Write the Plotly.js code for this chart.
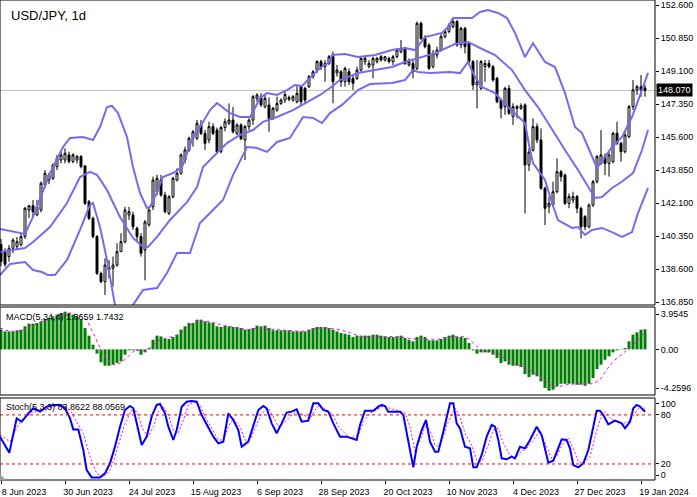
<!DOCTYPE html>
<html><head><meta charset="utf-8">
<script src="https://cdn.plot.ly/plotly-3.0.1.min.js"></script>
<style>html,body{margin:0;padding:0;background:#fff}#chart{width:697px;height:497px}</style>
</head><body><div id="chart"></div>
<script>
// ---- Data (daily bars, USD/JPY) ----
const dateTicks = ['8 Jun 2023','30 Jun 2023','24 Jul 2023','15 Aug 2023','6 Sep 2023','28 Sep 2023','20 Oct 2023','10 Nov 2023','4 Dec 2023','27 Dec 2023','19 Jan 2024'];
const dateTickBars = [0,16,32,48,64,80,96,112,128,144,160];

const openP = [139.90,139.50,139.26,139.70,139.79,139.88,140.32,141.73,141.96,141.47,141.73,143.06,143.32,143.41,144.03,144.38,144.38,144.65,144.30,144.38,
144.56,144.06,142.17,141.29,140.32,138.37,137.93,138.55,138.64,138.81,139.52,140.05,141.47,141.47,140.76,140.32,139.61,140.94,141.90,142.70,
143.32,142.52,141.55,142.43,143.32,143.68,144.38,144.91,145.53,145.53,146.24,145.79,145.44,146.15,145.97,144.82,146.10,146.33,146.50,145.79,
146.24,145.44,146.15,146.50,147.65,147.74,147.20,147.30,146.59,147.03,147.38,147.56,147.60,147.56,147.47,148.27,148.18,148.27,148.80,149.15,
149.60,149.33,149.50,149.86,149.00,149.06,148.53,149.06,148.71,148.71,149.15,149.60,149.33,149.42,149.60,149.86,149.68,149.77,149.60,149.86,
150.12,150.30,149.42,149.50,149.24,151.63,150.83,150.48,149.33,149.95,150.21,150.92,151.19,151.45,151.72,150.48,151.36,150.57,149.60,148.36,
148.18,149.33,149.50,149.33,148.71,147.56,147.21,148.18,146.68,147.12,147.12,147.30,144.12,144.90,146.15,145.44,142.88,141.90,142.00,142.70,
143.76,143.58,142.08,142.26,142.44,141.82,141.38,140.84,141.99,143.23,144.20,144.56,144.20,144.29,145.80,145.27,144.82,145.62,147.21,148.10,
148.27,148.20];
const highP = [140.20,139.70,139.87,140.23,140.30,140.50,141.90,142.00,142.26,142.26,143.24,143.85,143.70,144.20,144.65,144.82,145.00,144.82,144.74,144.65,
144.65,144.12,142.26,141.38,140.41,138.46,139.17,139.08,139.26,139.96,140.50,141.90,141.90,141.64,140.85,140.50,141.20,141.90,143.50,143.60,
143.59,142.70,142.52,143.50,143.94,144.74,145.09,145.62,145.97,146.50,146.50,145.97,146.41,146.33,146.10,146.20,146.59,147.38,147.20,146.33,
146.33,146.24,146.59,147.83,147.92,147.92,147.83,147.70,147.20,147.74,147.65,148.00,147.80,147.83,148.36,148.36,148.27,148.89,149.15,149.68,
149.70,149.68,149.95,150.13,149.42,149.15,149.33,149.24,148.89,149.33,149.86,149.86,149.68,149.86,149.86,149.95,149.90,149.86,149.95,150.30,
150.74,150.39,149.77,149.68,151.72,151.72,151.00,150.57,150.21,150.39,151.10,151.28,151.63,151.90,151.81,151.45,151.45,150.65,149.68,149.68,
149.68,149.68,149.68,149.42,148.80,147.65,148.27,148.36,147.39,147.30,147.39,147.39,145.00,146.59,146.33,146.06,142.97,142.44,143.23,144.47,
143.85,143.67,142.61,142.70,142.53,141.90,141.46,142.08,143.32,144.65,145.97,144.73,144.82,145.88,146.41,145.35,145.88,147.30,148.62,148.36,
148.89,148.36];
const lowP = [138.75,138.72,138.99,139.44,139.60,139.80,140.20,141.30,141.38,141.40,141.60,142.88,143.10,143.32,143.85,144.20,144.20,144.20,144.20,144.20,
143.94,142.00,141.20,140.23,138.28,137.84,137.22,138.11,137.66,138.72,139.50,139.96,141.20,140.67,140.05,139.26,138.00,140.85,141.73,142.50,
142.43,141.55,141.47,142.35,143.24,143.60,144.20,144.82,145.09,145.44,145.70,144.91,145.27,145.70,144.74,144.74,145.90,146.24,145.79,145.70,
145.44,144.38,145.97,146.24,147.47,147.20,147.12,145.88,146.50,146.94,147.30,147.40,147.50,147.47,147.38,147.30,147.40,148.20,148.70,149.00,
149.15,148.53,149.42,147.39,148.80,148.27,148.27,148.36,148.10,148.62,149.06,149.42,149.24,148.71,149.50,149.60,149.60,149.50,149.42,149.77,
150.03,149.42,149.33,148.71,149.15,150.74,150.30,149.15,149.24,149.77,150.12,150.83,151.10,151.36,150.39,150.30,150.03,149.42,148.10,147.12,
148.10,148.53,149.24,148.53,147.39,146.59,146.77,146.77,146.24,146.59,147.03,141.55,143.80,144.82,145.27,142.80,140.93,141.55,141.90,142.61,
143.23,142.00,141.82,142.08,141.55,140.22,140.66,140.75,141.90,143.14,144.12,143.58,143.50,144.20,145.18,144.29,144.73,145.53,147.03,147.83,
147.74,147.74];
const closeP = [139.00,138.85,139.70,140.14,140.05,140.32,141.82,141.96,141.64,141.90,143.15,143.68,143.59,144.12,144.47,144.65,144.74,144.30,144.65,144.56,
144.03,142.08,141.29,140.32,138.37,137.93,138.81,138.69,138.81,139.52,140.05,141.73,141.64,140.85,140.32,139.44,141.10,141.73,143.32,143.41,
142.52,141.64,142.43,143.41,143.68,144.65,144.91,145.53,145.88,146.33,145.79,145.27,146.15,145.79,144.82,146.10,146.41,146.50,145.88,146.24,
145.50,146.15,146.50,147.74,147.83,147.30,147.65,146.59,147.12,147.38,147.56,147.85,147.70,147.74,147.92,147.47,147.56,148.80,149.06,149.60,
149.30,149.50,149.86,148.53,149.15,148.53,149.24,148.53,148.45,149.15,149.77,149.77,149.50,149.77,149.77,149.68,149.86,149.60,149.86,150.21,
150.30,149.50,149.60,149.06,151.63,150.83,150.39,149.24,150.03,150.21,150.92,151.19,151.54,151.72,150.48,151.36,150.39,149.60,148.36,148.53,
149.60,149.50,149.33,148.62,147.47,147.12,148.18,146.86,147.21,147.21,147.25,144.12,144.80,146.15,145.44,142.88,141.82,142.08,142.70,143.76,
143.50,142.08,142.44,142.44,141.82,140.84,140.84,141.99,143.23,144.56,144.65,144.20,144.65,145.80,145.27,144.82,145.71,147.21,148.10,148.27,
148.10,148.07];
const lastPrice = 148.07;

// envelope lines (bar index, price)
const bandAIdx = [-0.25,4.75,6,8,12.25,15.5,17.25,20.5,23,24.75,26.5,27.75,29.25,31.5,33,34.75,36.5,37.25,39,40.5,43,45.25,46.5,48,49.75,52.25,54,55.25,57.25,59.75,62.25,63.5,64.75,66.5,69,71.5,73.5,75.25,77.25,79.75,82.25,82.75,86,89.25,93.5,97.75,101,103.5,106,110.25,111.75,113,115.25,117.75,119.75,121.75,124.25,126.5,128.5,131,133,136,138.5,141,143.5,145.25,146.75,149,150.5,152.75,155.25,157.75,160.25,161.75];
const bandA = [140.72,140.51,140.46,141.36,143.69,145.07,145.55,145.60,145.44,146.13,147.19,147.25,146.87,145.60,144.01,142.63,141.84,141.89,142.68,143.48,143.69,144.01,144.75,145.60,146.13,147.03,147.40,147.19,146.87,146.66,146.66,147.14,147.67,147.93,147.83,148.09,148.36,148.31,148.73,149.26,149.58,149.95,150.00,149.84,149.95,150.21,150.32,150.21,150.90,151.12,151.43,151.91,151.91,151.91,152.23,152.33,152.18,151.91,151.12,149.84,150.58,149.58,149.31,147.93,146.13,145.81,145.07,143.96,144.38,145.07,145.60,146.66,148.09,149.00];
const bandBIdx = [-0.25,2.25,6,8,12.25,16.5,19.75,22.25,24,26.5,29.75,33,35.5,36.75,39,42.25,46.5,49,50.5,53,56.5,59.75,63,65.5,69,73,76.5,79.75,82.25,84.75,89.25,93.5,97.75,101,104.25,108.5,113.5,116.75,119.75,123.5,127.75,131,134.25,137.75,141,144.25,146.75,148.5,150.25,152.75,155,158,160.25,161.75];
const bandB = [139.50,139.60,139.71,140.03,140.83,142.10,143.48,143.75,143.59,142.79,141.36,140.25,139.77,139.77,140.30,141.20,142.15,142.95,144.01,144.54,145.28,145.71,145.97,146.40,146.66,147.03,147.46,147.83,148.20,148.62,148.99,149.15,149.31,149.58,149.79,150.05,150.53,150.64,150.32,149.95,149.15,148.09,147.19,145.97,144.91,143.85,142.95,142.37,142.42,142.90,143.20,143.69,144.91,145.97];
const bandCIdx = [-0.25,2.25,6,8,10.25,11.75,13.5,16.5,19.75,22.25,23,24.75,26.5,28.5,30.75,33,35.5,39,41.5,44,47.25,49.75,52.25,55.5,58,61.5,64,66.5,69,72.25,75.5,78,80.25,82.25,85.25,89.25,92.25,97.75,101,103,104.25,107.25,112.25,114.75,116.75,118.5,120.25,123.5,126.75,131,132.25,133,136,137.75,139.25,142.75,144.25,146,147.75,150.25,152.75,155.25,157.75,159.25,161.75];
const bandC = [138.28,138.87,138.97,138.55,138.44,138.28,138.28,139.08,140.67,142.00,142.10,140.83,139.08,136.69,135.40,136.69,137.49,137.59,138.39,139.45,139.45,141.04,141.57,142.26,143.58,145.07,145.02,144.81,145.34,145.55,146.66,146.61,146.34,146.87,147.30,148.09,148.41,148.46,148.62,149.15,149.05,148.99,149.05,148.99,149.58,148.78,148.25,147.93,147.19,146.34,144.91,144.22,143.32,142.10,141.20,140.78,140.83,140.41,140.67,140.78,140.56,140.30,140.56,141.57,142.90];

// MACD histogram per bar and signal line
const macdHist = [1.84,1.68,1.68,1.68,1.78,1.84,2.15,2.40,2.40,2.46,2.62,2.83,2.93,3.08,3.24,3.40,3.52,3.40,3.24,3.08,
2.83,1.99,1.28,0.44,-0.40,-1.21,-1.53,-1.53,-1.43,-1.28,-1.12,-0.50,-0.09,-0.09,-0.12,-0.50,-0.28,0.12,0.90,1.28,
1.21,0.97,0.97,1.15,1.37,1.84,2.15,2.46,2.46,2.77,2.77,2.62,2.52,2.46,2.15,2.09,2.21,2.15,2.09,2.09,
1.99,1.84,1.90,1.99,2.21,2.15,2.21,1.99,1.78,1.78,1.78,1.78,1.78,1.68,1.68,1.68,1.68,1.84,1.99,2.09,
2.09,2.09,1.99,1.84,1.68,1.53,1.46,1.37,1.15,1.28,1.28,1.28,1.28,1.37,1.37,1.28,1.21,1.15,1.15,1.21,
1.28,1.06,0.90,0.75,1.15,1.28,1.15,0.84,0.84,0.84,0.97,1.15,1.28,1.37,1.15,1.15,1.06,0.59,-0.09,-0.40,
-0.28,-0.28,-0.28,-0.50,-0.81,-1.28,-1.12,-1.43,-1.53,-1.53,-1.65,-2.31,-2.59,-2.37,-2.52,-2.99,-3.61,-3.86,-3.77,-3.46,
-3.21,-3.21,-3.21,-3.21,-3.30,-3.30,-3.40,-3.21,-2.68,-1.84,-1.43,-0.97,-0.65,-0.28,-0.09,-0.03,0.12,0.75,1.37,1.59,
1.84,1.87];
const macdSigIdx = [-0.25,2.25,4.75,7.25,9.75,12.25,14.75,17.25,19.75,21.42,22.67,23.92,25.17,26.42,28.08,29.75,31.42,33.08,34.75,36.42,38.08,39.75,41.42,43.08,45.17,46.42,48.08,49.75,51.42,53.08,54.75,56.42,58.08,59.75,61.42,63.08,64.75,66.42,68.08,69.75,71.42,73.08,74.75,76.42,78.08,79.75,81.42,83.08,84.75,86.83,89.75,93.08,97.25,99.75,101.42,103.08,105.58,108.08,109.75,111.42,113.92,115.58,117.25,118.92,120.58,123.08,124.75,126.42,128.08,129.75,131.42,133.08,134.75,136.42,138.08,139.75,141.42,143.08,144.75,146.42,148.08,149.75,151.42,153.08,154.75,156.42,158.08,159.75,161];
const macdSig = [1.99,1.68,1.68,2.15,2.52,2.83,3.24,3.40,3.15,2.77,1.84,0.75,-0.19,-0.90,-1.43,-1.28,-0.81,-0.19,-0.09,-0.09,0.44,0.90,1.06,1.21,1.53,1.99,2.46,2.71,2.62,2.52,2.31,2.15,2.09,1.99,1.84,1.90,1.99,1.90,1.84,1.78,1.78,1.74,1.68,1.74,1.84,1.99,1.99,1.93,1.84,1.59,1.21,1.15,1.21,1.15,1.06,0.97,0.97,0.90,0.97,1.15,1.21,1.21,0.90,0.28,-0.19,-0.28,-0.50,-0.97,-1.28,-1.53,-1.74,-2.06,-2.52,-2.99,-3.52,-3.46,-3.30,-3.24,-3.21,-3.24,-3.21,-2.83,-1.90,-1.12,-0.59,-0.09,0.44,1.06,1.74];

// Stochastic main and signal
const stochMainIdx = [-0.25,2.08,3.92,5.17,6.83,8.08,9.75,11.42,13.08,14.75,16,17.25,18.08,19.33,20.58,21.42,22.67,24.75,26,27.25,28.5,29.75,31,32.25,33.08,33.92,35.17,36.42,37.67,38.92,39.75,41,41.83,43.08,43.92,45.17,46.42,47.67,48.92,50.17,51.42,53.08,54.33,55.58,56.83,58.08,59.33,60.17,61.83,63.08,64.33,65.58,66.42,67.67,68.92,70.17,71.42,72.67,73.92,75.17,76.83,78.08,79.33,80.58,81.83,83.08,84.75,86.42,88.92,89.75,91,93.08,94.33,95.17,96,96.83,99.75,100.58,101.83,103.08,103.92,105.17,106.25,107.25,108.5,109.33,110.58,112.25,113.08,113.92,114.75,116,117.25,118.08,118.92,120.17,121.42,122.67,123.5,124.33,125.17,126.42,127.67,128.5,129.75,131,132.25,133.92,135.17,136.83,138.08,138.92,140.17,141.42,142.25,143.08,144.33,145.58,146.83,148.08,148.92,149.75,150.58,151.83,153.5,155.17,156,157.25,158.08,158.92,159.75,161];
const stochMain = [53.4,33.8,75.8,71.7,81.9,88.1,84.0,90.1,92.2,92.2,88.1,75.8,62.3,62.3,37.1,12.6,3.6,3.6,8.5,20.8,41.2,65.6,86.0,90.9,88.1,69.7,43.2,53.4,77.9,92.2,93.4,81.9,65.6,49.3,61.6,90.1,96.2,97.0,96.2,79.9,67.7,53.4,45.2,47.3,81.9,73.8,61.5,41.1,47.3,65.6,86.0,90.9,88.1,69.7,57.5,69.7,82.8,84.0,86.9,71.7,73.0,94.2,94.2,86.0,84.0,69.7,53.4,53.4,49.3,67.7,85.2,85.2,90.1,92.2,90.9,84.0,84.0,79.9,49.3,15.9,41.1,61.5,73.8,47.3,35.1,35.1,59.5,94.2,94.2,69.7,63.6,41.1,39.1,15.9,15.9,31.0,53.4,67.7,65.6,49.3,26.9,25.7,28.9,26.9,41.1,39.1,49.3,65.6,55.4,21.6,24.0,35.1,50.1,49.3,39.1,18.7,15.9,20.8,37.1,65.6,85.2,85.2,79.9,68.5,73.0,69.7,63.6,71.7,88.1,92.2,90.1,83.9];
const stochSigIdx = [-0.25,2.25,4.33,6.42,8.08,10.58,13.08,15.58,17.25,18.92,20.58,22.25,23.92,25.58,27.25,28.5,29.75,31,32.67,33.92,35.58,36.83,38.08,39.33,40.58,41.83,43.08,44.33,45.58,46.83,48.5,49.75,51,52.67,54.33,55.58,56.83,58.08,59.75,61,62.25,63.5,65.17,66.83,68.08,69.33,70.58,72.25,73.92,75.58,77.25,78.5,79.75,81.42,83.08,84.33,86,87.25,89.33,90.58,92.25,94.33,95.58,97.25,99.75,101,102.25,103.5,104.75,106,107.25,108.5,109.75,111.42,113.5,114.75,116,117.67,118.92,120.17,121.83,123.08,124.33,125.58,127.25,128.5,130.17,131.42,133.08,134.75,136.42,137.67,138.92,140.17,141.83,143.08,144.33,145.58,147.25,148.5,149.75,151,152.25,153.92,155.58,156.83,158.5,159.75,161];
const stochSig = [55.4,47.3,67.7,77.9,84.0,86.0,90.1,92.2,86.0,71.7,57.4,28.9,8.5,3.6,12.6,28.9,49.3,69.7,86.0,84.0,61.5,53.4,65.6,84.0,90.1,79.9,61.5,57.4,73.8,92.2,96.2,92.2,77.9,63.6,49.3,49.3,65.6,75.8,65.6,49.3,49.3,63.6,81.9,88.1,77.9,65.6,69.7,77.9,84.0,79.9,75.8,86.0,92.2,86.0,79.9,65.6,57.4,51.4,55.4,71.7,81.9,88.1,90.9,88.1,84.8,82.8,65.6,35.1,49.3,65.6,61.5,43.2,41.1,67.7,88.1,77.9,57.4,43.2,24.8,22.8,43.2,61.5,63.6,45.2,30.9,26.9,35.1,39.1,49.3,61.5,41.1,26.9,28.9,43.2,51.4,39.1,22.8,20.8,28.9,53.4,73.8,84.0,75.8,71.7,69.7,71.7,81.9,90.1,88.1];
const stochLevels = [20, 80];

// ---- helpers ----
const barIdx = closeP.map((_, i) => i);
const FONT = 'Liberation Sans, Arial, sans-serif';
const H = 480; // plot-area height in px
const py = px => 1 - px / H; // pixel row -> paper fraction
const mainTicks = [152.6,150.85,149.1,147.35,145.6,143.85,142.1,140.35,138.6,136.85];

const traces = [
  {type:'candlestick', x: barIdx, open: openP, high: highP, low: lowP, close: closeP,
   xaxis:'x', yaxis:'y', whiskerwidth:0, hoverinfo:'skip',
   increasing:{line:{color:'#000000', width:1}, fillcolor:'#ffffff'},
   decreasing:{line:{color:'#000000', width:1}, fillcolor:'#000000'}},
  {type:'scatter', mode:'lines', x: bandAIdx, y: bandA, yaxis:'y', line:{color:'#7B68EE', width:2}, hoverinfo:'skip'},
  {type:'scatter', mode:'lines', x: bandBIdx, y: bandB, yaxis:'y', line:{color:'#7B68EE', width:2}, hoverinfo:'skip'},
  {type:'scatter', mode:'lines', x: bandCIdx, y: bandC, yaxis:'y', line:{color:'#7B68EE', width:2}, hoverinfo:'skip'},
  {type:'bar', x: barIdx, y: macdHist, yaxis:'y2', marker:{color:'#008000', line:{width:0}}, width:0.75, hoverinfo:'skip'},
  {type:'scatter', mode:'lines', x: macdSigIdx, y: macdSig, yaxis:'y2', line:{color:'#FF00FF', width:1, dash:'dot'}, hoverinfo:'skip'},
  {type:'scatter', mode:'lines', x: stochSigIdx, y: stochSig, yaxis:'y3', line:{color:'#FF00FF', width:1, dash:'2px,2px'}, hoverinfo:'skip'},
  {type:'scatter', mode:'lines', x: stochMainIdx, y: stochMain, yaxis:'y3', line:{color:'#0000FF', width:2}, hoverinfo:'skip'}
];

const axisFont = {family: FONT, size: 9, color:'#000'};
const layout = {
  width: 697, height: 497,
  margin: {l:0, r:42, t:0, b:17, pad:0},
  paper_bgcolor:'#ffffff', plot_bgcolor:'#ffffff',
  showlegend: false, bargap: 0.25,
  xaxis: {type:'linear', range:[-0.25, 163.5], anchor:'y3', rangeslider:{visible:false},
          tickvals: dateTickBars, ticktext: dateTicks, ticks:'outside', ticklen:3, tickcolor:'#000',
          ticklabelshift: 23, showgrid:false, zeroline:false, showline:false, tickfont: axisFont, fixedrange:true},
  yaxis: {domain:[py(305), 1], range:[136.693, 152.865], side:'right', anchor:'x',
          tickvals: mainTicks, ticktext: mainTicks.map(v => v.toFixed(3)), ticks:'outside', ticklen:3, tickcolor:'#000',
          showgrid:false, zeroline:false, showline:false, tickfont: axisFont, fixedrange:true},
  yaxis2: {domain:[py(395), py(307)], range:[-4.2596, 3.9545], side:'right', anchor:'x',
          tickvals:[3.30, 0, -3.606], ticktext:['3.9545','0.00','-4.2596'], ticks:'outside', ticklen:3, tickcolor:'#000',
          showgrid:false, zeroline:false, showline:false, tickfont: axisFont, fixedrange:true},
  yaxis3: {domain:[0, py(398)], range:[0.4, 100.7], side:'right', anchor:'x',
          tickvals:[93.4, 80, 20, 6.5], ticktext:['100','80','20','0'], ticks:'outside', ticklen:3, tickcolor:'#000',
          showgrid:false, zeroline:false, showline:false, tickfont: axisFont, fixedrange:true},
  shapes: [
    {type:'rect', xref:'paper', yref:'paper', x0:0, x1:1, y0:py(305), y1:1, line:{color:'#000', width:1}},
    {type:'rect', xref:'paper', yref:'paper', x0:0, x1:1, y0:py(395), y1:py(307), line:{color:'#000', width:1}},
    {type:'rect', xref:'paper', yref:'paper', x0:0, x1:1, y0:0, y1:py(398), line:{color:'#000', width:1}},
    {type:'line', xref:'paper', yref:'y', x0:0, x1:1, y0:lastPrice, y1:lastPrice, line:{color:'#C0C0C0', width:1}, layer:'below'},
    ...stochLevels.map(v => ({type:'line', xref:'paper', yref:'y3', x0:0, x1:1, y0:v, y1:v, line:{color:'#FF0000', width:1, dash:'3px,3px'}})),
    {type:'path', xref:'paper', yref:'paper', path:`M0,${py(474)} L${6/655},${py(480)} L0,${py(480)} Z`, fillcolor:'#A0A0A0', line:{width:0}}
  ],
  annotations: [
    {text:'USD/JPY, 1d', xref:'paper', yref:'paper', x:0, y:1, xanchor:'left', yanchor:'top', xshift:9, yshift:-6,
     showarrow:false, font:{family:FONT, size:13, color:'#000'}},
    {text:'MACD(5,34,4) 1.8659 1.7432', xref:'paper', yref:'paper', x:0, y:py(307), xanchor:'left', yanchor:'top', xshift:4, yshift:-3,
     showarrow:false, font:{family:FONT, size:9, color:'#000'}},
    {text:'Stoch(5,3,3) 83.8622 88.0569', xref:'paper', yref:'paper', x:0, y:py(398), xanchor:'left', yanchor:'top', xshift:4, yshift:-2,
     showarrow:false, font:{family:FONT, size:9, color:'#000'}},
    {text:lastPrice.toFixed(3), xref:'paper', yref:'y', x:1, y:lastPrice, xanchor:'left', yanchor:'middle', xshift:1,
     showarrow:false, bgcolor:'#000000', borderpad:1, font:{family:FONT, size:9, color:'#ffffff'}}
  ]
};

Plotly.newPlot('chart', traces, layout, {staticPlot:true, displayModeBar:false});
</script>
</body></html>
